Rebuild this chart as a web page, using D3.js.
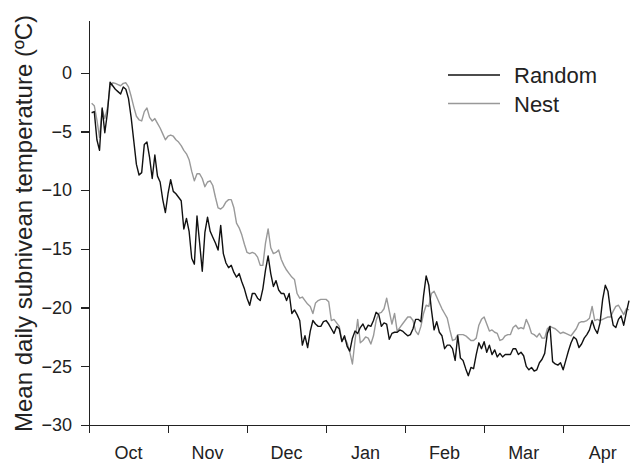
<!DOCTYPE html>
<html>
	<head>
		<meta charset="utf-8">
		<style type="text/css">
			body { margin: 0; background: #fff; }
			svg { display: block; font-family: "Liberation Sans", Arial, sans-serif; }
			.axis path, .axis line { stroke: #222; stroke-width: 1.3; shape-rendering: crispEdges; }
			.axis text { font-size: 18px; fill: #222; }
			.series { fill: none; stroke-width: 1.4; stroke-linejoin: round; }
		</style>
		<title>Mean daily subnivean temperature</title>
	</head>
	<body>
		<script src="https://cdn.jsdelivr.net/npm/d3@7"></script>
		<script>

// daily means, day 1 = 1 Oct
var firstDay = 1;

var randomTemps = [
	-3.4,-3.3,-5.7,-6.6,-3.0,-5.1,-3.4,-0.8,-1.1,-1.4,
	-1.6,-1.8,-1.2,-1.4,-2.2,-3.8,-5.8,-7.8,-8.7,-8.5,
	-6.1,-5.9,-7.2,-9.0,-7.0,-8.8,-9.3,-10.8,-11.9,-10.3,
	-9.1,-10.1,-10.3,-10.6,-10.9,-13.3,-12.4,-13.5,-15.8,-16.3,
	-12.2,-14.5,-16.9,-13.6,-12.3,-13.5,-14.0,-14.5,-15.1,-13.0,
	-15.4,-16.2,-16.6,-16.4,-17.0,-17.4,-17.1,-17.8,-18.4,-19.2,
	-19.8,-18.8,-18.8,-19.2,-19.4,-18.4,-16.8,-15.6,-17.1,-18.2,
	-17.7,-18.5,-18.8,-18.8,-19.4,-18.8,-20.5,-20.2,-20.6,-21.1,
	-23.2,-22.4,-23.4,-22.0,-21.1,-21.4,-21.6,-21.6,-21.2,-21.1,
	-21.4,-21.8,-22.2,-21.6,-21.8,-22.9,-22.4,-23.3,-23.7,-22.6,
	-22.0,-22.2,-21.7,-21.4,-21.9,-21.5,-21.6,-21.1,-20.4,-20.6,
	-21.6,-21.3,-21.4,-22.7,-22.2,-22.1,-22.1,-21.9,-22.0,-22.2,
	-22.4,-22.3,-21.8,-21.0,-21.0,-21.2,-19.0,-17.3,-18.1,-20.2,
	-21.9,-21.2,-22.1,-22.4,-23.5,-23.2,-23.2,-23.5,-24.5,-22.4,
	-24.3,-24.5,-25.2,-25.8,-25.1,-25.2,-24.0,-23.0,-23.5,-22.9,
	-23.8,-23.2,-24.0,-23.6,-24.2,-23.9,-24.2,-24.0,-24.0,-24.0,
	-23.5,-23.5,-24.0,-23.8,-24.1,-25.0,-25.3,-25.1,-25.4,-25.3,
	-24.7,-24.4,-23.9,-22.2,-21.6,-24.6,-24.8,-24.9,-24.7,-25.3,
	-24.5,-23.7,-23.0,-22.5,-22.7,-23.4,-23.1,-22.6,-22.3,-21.9,
	-21.1,-21.8,-22.2,-21.3,-19.3,-18.1,-18.6,-20.3,-21.5,-21.7,
	-21.0,-20.7,-21.5,-20.4,-19.4
];

var nestTemps = [
	-2.6,-2.8,-4.0,-5.5,-3.1,-3.9,-3.0,-1.2,-0.85,-0.9,
	-1.0,-1.1,-0.9,-0.85,-1.2,-2.0,-2.9,-3.7,-4.0,-4.1,
	-3.3,-3.0,-3.8,-4.1,-3.9,-4.3,-4.7,-5.2,-5.7,-5.4,
	-5.3,-5.4,-5.7,-5.9,-6.2,-6.6,-6.9,-7.4,-8.4,-9.2,
	-8.6,-8.6,-9.0,-9.7,-9.3,-9.2,-9.6,-10.6,-11.5,-11.6,
	-11.4,-11.0,-10.8,-10.8,-11.5,-12.8,-13.2,-13.8,-14.6,-15.3,
	-15.4,-15.3,-15.4,-15.7,-16.4,-16.4,-14.5,-13.3,-14.9,-15.4,
	-15.3,-15.1,-15.9,-16.4,-16.8,-17.1,-17.4,-17.6,-18.8,-19.2,
	-19.1,-19.4,-19.7,-19.9,-20.5,-19.6,-19.4,-19.3,-19.3,-19.3,
	-19.5,-21.1,-21.0,-21.3,-21.6,-22.8,-22.6,-23.0,-23.8,-24.8,
	-22.8,-21.0,-23.0,-22.8,-22.5,-22.6,-23.1,-22.4,-21.1,-20.5,
	-20.4,-20.1,-19.2,-20.3,-21.4,-20.5,-22.0,-21.7,-21.4,-21.1,
	-20.8,-20.8,-21.1,-22.0,-22.3,-21.6,-20.5,-19.8,-19.9,-18.8,
	-18.6,-19.1,-19.6,-20.1,-20.5,-20.9,-21.9,-22.8,-22.7,-22.3,
	-22.3,-22.3,-22.4,-22.6,-22.8,-22.8,-22.6,-21.5,-21.0,-20.8,
	-21.4,-22.0,-21.9,-22.1,-22.2,-22.8,-22.7,-22.4,-22.3,-22.3,
	-21.7,-21.5,-21.8,-21.7,-21.8,-21.0,-21.5,-22.2,-22.3,-22.5,
	-22.2,-22.6,-22.6,-21.8,-21.6,-21.7,-21.8,-22.0,-22.2,-22.1,
	-22.2,-22.3,-22.4,-22.1,-21.8,-21.3,-21.2,-21.2,-21.1,-20.9,
	-19.9,-21.1,-21.0,-21.1,-21.0,-20.9,-20.8,-20.8,-20.3,-19.9,
	-19.8,-20.2,-20.6,-20.1,-20.2
];

var months = ["Oct", "Nov", "Dec", "Jan", "Feb", "Mar", "Apr"];
var monthStarts = [0, 30, 60, 90, 120, 150, 180];
var yTicks = [-30, -25, -20, -15, -10, -5, 0];

var seriesNames = ["Random", "Nest"];
var seriesColors = ["#111", "#999"];

var width = 630, height = 463;
var margin = {top: 20, right: 1, bottom: 38, left: 89};

var x = d3.scaleLinear()
	.domain([0, 205])
	.range([margin.left, width - margin.right]);

var y = d3.scaleLinear()
	.domain([-30, 4.5])
	.range([height - margin.bottom, margin.top]);

var svg = d3.select("body").append("svg")
	.attr("width", width)
	.attr("height", height);

var series = [randomTemps, nestTemps].map((vals, i) => ({
	name: seriesNames[i],
	color: seriesColors[i],
	values: vals.map((v, j) => ({day: firstDay + j, t: v}))
}));

var line = d3.line()
	.x(d => x(d.day))
	.y(d => y(d.t));

// nest drawn first so the random line sits on top
svg.selectAll(".series")
	.data(series.slice().reverse())
	.enter().append("path")
		.attr("class", "series")
		.attr("stroke", d => d.color)
		.attr("d", d => line(d.values));

// axes
svg.append("g")
	.attr("class", "axis")
	.attr("transform", `translate(0,${y(-30)})`)
	.call(d3.axisBottom(x)
		.tickValues(monthStarts)
		.tickFormat("")
		.tickSize(8)
		.tickSizeOuter(0));

svg.append("g")
	.attr("class", "axis")
	.attr("transform", `translate(${x(0)},0)`)
	.call(d3.axisLeft(y)
		.tickValues(yTicks)
		.tickSize(8)
		.tickPadding(9)
		.tickSizeOuter(0));

// month names sit between the ticks
svg.append("g")
	.selectAll("text")
	.data(months)
	.enter().append("text")
		.attr("x", (d, i) => x(monthStarts[i] + 15))
		.attr("y", 459)
		.attr("text-anchor", "middle")
		.attr("font-size", 18)
		.attr("fill", "#222")
		.text(d => d);

svg.append("text")
	.attr("transform", `translate(32,${(15 + 432) / 2}) rotate(-90)`)
	.attr("text-anchor", "middle")
	.attr("font-size", 24)
	.attr("fill", "#222")
	.text("Mean daily subnivean temperature (ºC)");

// legend
var legend = svg.append("g")
	.selectAll("g")
	.data(series)
	.enter().append("g")
		.attr("transform", (d, i) => `translate(448,${75 + i * 28.5})`);

legend.append("line")
	.attr("x1", 0).attr("x2", 52)
	.attr("stroke", d => d.color)
	.attr("stroke-width", 1.5);

legend.append("text")
	.attr("x", 66)
	.attr("y", 8)
	.attr("font-size", 22)
	.attr("fill", "#222")
	.text(d => d.name);

		</script>
	</body>
</html>
